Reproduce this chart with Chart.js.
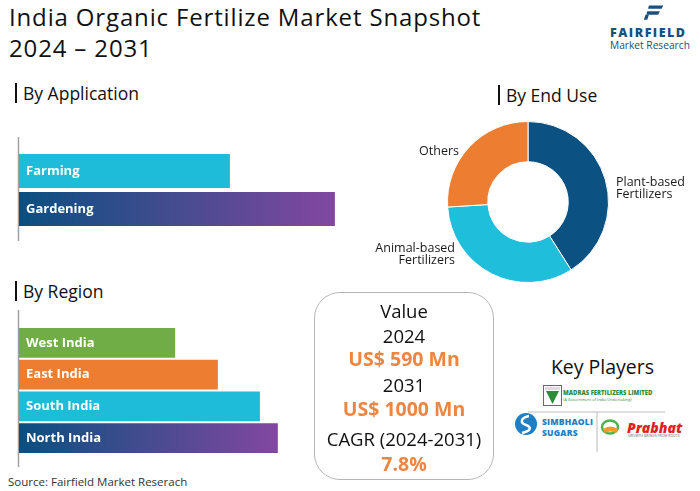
<!DOCTYPE html>
<html><head><meta charset="utf-8">
<script src="https://cdn.jsdelivr.net/npm/chart.js@4.4.0/dist/chart.umd.min.js"></script>
<style>
html,body{margin:0;padding:0}
body{width:700px;height:491px;overflow:hidden;background:#fff;position:relative;font-family:'Open Sans',sans-serif;color:#111}
.abs{position:absolute;white-space:nowrap}
.title{left:9px;font-size:24px;line-height:29px;color:#111;letter-spacing:0.85px}
.head{font-size:17.5px;line-height:20px;color:#111;padding-left:6px;border-left:2.5px solid #111}
.vbox{left:314px;top:292px;width:180px;height:188px;border:1px solid #b5b5b5;border-radius:26px;box-sizing:border-box}
.vt{left:314px;width:180px;text-align:center;font-size:18.5px;line-height:22px;color:#111}
.vo{color:#ee8540;font-weight:700;font-size:19.5px}
canvas{position:absolute}
</style></head><body>
<div class="abs title" style="top:2px">India Organic Fertilize Market Snapshot</div>
<div class="abs title" style="top:33px">2024 – 2031</div>

<!-- Fairfield logo -->
<svg class="abs" style="left:643px;top:4px" width="22" height="18" viewBox="0 0 26 18">
  <path d="M7 0 H24 L22 4 H6 Z" fill="#1b4f7c"/>
  <path d="M5 7 H20 L18 11 H4 Z" fill="#1b4f7c"/>
  <path d="M3 11 H7 L5 17 H1 Z" fill="#1b4f7c"/>
</svg>
<div class="abs" style="left:610px;top:24px;font-size:12.5px;font-weight:800;color:#1b4f7c;letter-spacing:1.5px">FAIRFIELD</div>
<div class="abs" style="left:610px;top:38px;font-size:10.2px;color:#1b4f7c">Market Research</div>

<div class="abs head" style="left:15px;top:83px">By Application</div>
<div class="abs head" style="left:498px;top:85px">By End Use</div>
<div class="abs head" style="left:15px;top:281px">By Region</div>

<canvas id="app" width="360" height="115" style="left:0;top:130px"></canvas>
<canvas id="reg" width="360" height="170" style="left:0;top:300px"></canvas>
<canvas id="end" width="340" height="204" style="left:360px;top:100px"></canvas>

<div class="abs vbox"></div>
<div id="vals"></div>

<div class="abs" style="left:540px;width:125px;text-align:center;top:353px;font-size:19.5px;color:#111">Key Players</div>

<!-- key player marks -->
<svg class="abs" style="left:515px;top:380px" width="180" height="80" viewBox="0 0 180 80">
  <rect x="28.5" y="5.5" width="18" height="20" fill="#fff" stroke="#3a8a3a" stroke-width="1"/>
  <rect x="30" y="7" width="15" height="3" fill="#ddd"/>
  <path d="M31 11 L44 11 L37.5 24 Z" fill="#2e8b3a"/>
  <line x1="13" y1="32" x2="150" y2="32" stroke="#bbb" stroke-width="1"/>
  <line x1="82" y1="32" x2="82" y2="72" stroke="#bbb" stroke-width="1"/>
  <circle cx="11" cy="44" r="11" fill="#1e7fc4"/>
  <path d="M14 36 C5 38 5 43 11 45 C17 47 16 51 7 53" stroke="#fff" stroke-width="2.5" fill="none"/>
  <ellipse cx="95" cy="47" rx="8" ry="6.5" fill="none" stroke="#4bb34b" stroke-width="2.5"/>
  <path d="M88 49 Q95 44 103 49 L101 53 Q95 50 90 53 Z" fill="#f29a2e"/>
</svg>
<div class="abs" style="left:563px;top:388px;font-size:6.9px;line-height:9px;font-weight:800;color:#2e8b3a;transform:scaleX(0.86);transform-origin:0 0">MADRAS FERTILIZERS LIMITED</div>
<div class="abs" style="left:563px;top:397px;font-size:4px;line-height:5px;color:#2e8b3a">(A Government of India Undertaking)</div>
<div class="abs" style="left:542px;top:417px;font-size:8.6px;line-height:10.5px;font-weight:800;color:#1e7fc4;letter-spacing:0.15px">SIMBHAOLI<br>SUGARS</div>
<div class="abs" style="left:627px;top:419px;font-size:14px;line-height:17px;font-weight:800;font-style:italic;color:#e01f26">Prabhat</div>
<div class="abs" style="left:628px;top:434px;font-size:3.5px;line-height:4px;color:#666">GROWTH BRINGS FROM ROOTS</div>

<div class="abs" style="left:8px;top:474px;font-size:11.5px;color:#333">Source: Fairfield Market Reserach</div>

<script>
// ---- data ----
const applicationLabels = ['Farming', 'Gardening'];
const applicationValues = [64.7, 96.9];
const regionLabels = ['West India', 'East India', 'South India', 'North India'];
const regionValues = [47.9, 61.0, 73.9, 79.4];
const endUseLabels = [['Plant-based', 'Fertilizers'], ['Animal-based', 'Fertilizers'], 'Others'];
const endUseValues = [41, 33, 26];
const valueLines = ['Value', '2024', 'US$ 590 Mn', '2031', 'US$ 1000 Mn', 'CAGR (2024-2031)', '7.8%'];

// ---- value box text ----
const valueTops = [300, 325, 348, 374, 398, 428, 453];
const vals = document.getElementById('vals');
valueLines.forEach((t, i) => {
  const d = document.createElement('div');
  d.className = 'abs vt' + (i === 2 || i === 4 || i === 6 ? ' vo' : '');
  d.style.top = valueTops[i] + 'px';
  d.textContent = t;
  vals.appendChild(d);
});

const FONT = "'Open Sans', sans-serif";

const axisLine = {
  id: 'axisLine',
  beforeDatasetsDraw(chart, args, opts) {
    const { ctx, chartArea } = chart;
    ctx.save();
    ctx.strokeStyle = '#a0a0a0';
    ctx.lineWidth = 1.5;
    ctx.beginPath();
    ctx.moveTo(chartArea.left - 0.5, chartArea.top - opts.ext[0]);
    ctx.lineTo(chartArea.left - 0.5, chartArea.bottom + opts.ext[1]);
    ctx.stroke();
    ctx.restore();
  }
};

function barChart(id, labels, values, colors, pad, ext, barPct) {
  return new Chart(document.getElementById(id), {
    type: 'bar',
    data: {
      labels: labels,
      datasets: [{
        data: values,
        backgroundColor: (c) => {
          const col = colors[c.dataIndex];
          if (col !== 'grad') return col;
          const xs = c.chart.scales.x;
          if (!xs || !c.chart.chartArea) return '#0b4f80';
          const x0 = xs.getPixelForValue(0), x1 = xs.getPixelForValue(values[c.dataIndex]);
          const g = c.chart.ctx.createLinearGradient(x0, 0, x1, 0);
          g.addColorStop(0, '#0a4f80');
          g.addColorStop(1, '#8347a0');
          return g;
        },
        borderWidth: 0,
        barPercentage: barPct,
        categoryPercentage: 1
      }]
    },
    options: {
      indexAxis: 'y',
      responsive: false,
      animation: false,
      events: [],
      layout: { padding: pad },
      plugins: { legend: { display: false }, tooltip: { enabled: false }, axisLine: { ext: ext } },
      scales: {
        x: { display: false, min: 0, max: 100 },
        y: {
          grid: { display: false, drawTicks: false },
          border: { display: false },
          ticks: { mirror: true, z: 1, color: '#fff', padding: 7, font: { family: FONT, weight: 'bold', size: 13 } }
        }
      }
    },
    plugins: [axisLine]
  });
}

barChart('app', applicationLabels, applicationValues, ['#1fbcd9', 'grad'],
  { left: 5, right: 15, top: 22, bottom: 17 }, [15, 13], 0.9);
barChart('reg', regionLabels, regionValues, ['#70ad47', '#ed7d31', '#1fbcd9', 'grad'],
  { left: 5, right: 15, top: 27, bottom: 16 }, [17, 13], 0.93);

// ---- donut ----
const outsideLabels = {
  id: 'outsideLabels',
  afterDraw(chart, args, opts) {
    const { ctx } = chart;
    const arc = chart.getDatasetMeta(0).data[0];
    const cx = arc.x, cy = arc.y;
    ctx.save();
    ctx.fillStyle = '#1a1a1a';
    ctx.font = '500 12.5px ' + FONT;
    ctx.textBaseline = 'middle';
    chart.data.labels.forEach((lab, i) => {
      const p = opts.place[i];
      const lines = Array.isArray(lab) ? lab : [lab];
      ctx.textAlign = p.align;
      lines.forEach((ln, j) => ctx.fillText(ln, cx + p.dx, cy + p.dy + j * 12));
    });
    ctx.restore();
  }
};

new Chart(document.getElementById('end'), {
  type: 'doughnut',
  data: {
    labels: endUseLabels,
    datasets: [{
      data: endUseValues,
      backgroundColor: ['#0b5283', '#1fbedb', '#ed7d31'],
      borderColor: '#fff',
      borderWidth: 1
    }]
  },
  options: {
    responsive: false,
    animation: false,
    events: [],
    cutout: '50%',
    layout: { padding: { left: 50, right: 54, top: 21, bottom: 21 } },
    plugins: {
      legend: { display: false }, tooltip: { enabled: false },
      outsideLabels: { place: [
        { dx: 88, dy: -20, align: 'left' },
        { dx: -73, dy: 46, align: 'right' },
        { dx: -69, dy: -51, align: 'right' }
      ] }
    }
  },
  plugins: [outsideLabels]
});
</script>
</body></html>
